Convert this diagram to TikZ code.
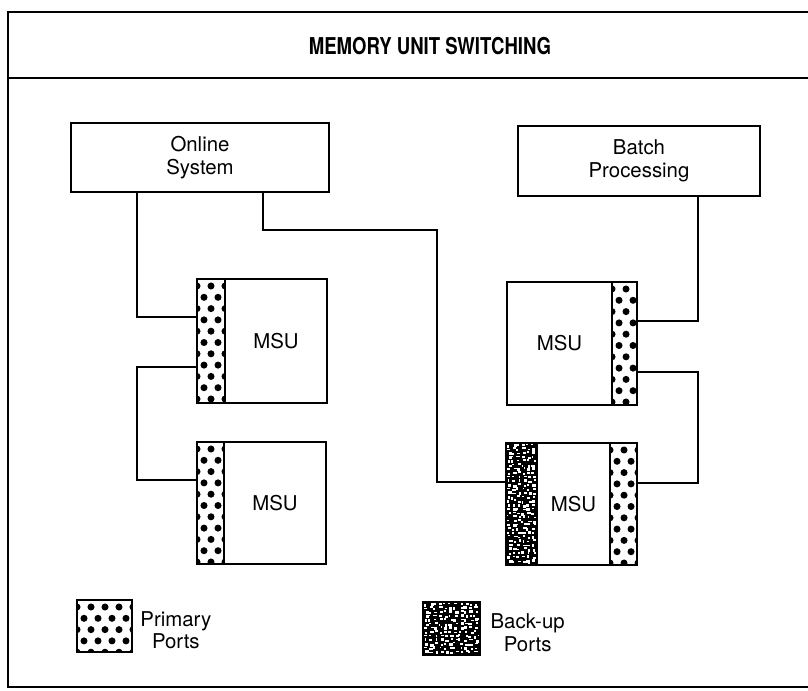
\documentclass[tikz,border=0pt]{standalone}
\usepackage{fontspec}
\setmainfont{TeX Gyre Heros}
\newfontfamily\hepfont[FakeStretch=0.8]{TeX Gyre Heros}
\usetikzlibrary{positioning}

\tikzset{
  khung/.style={draw, line width=1.2pt, outer sep=0pt, inner sep=0pt},
  hop/.style={khung, align=center, font=\fontsize{14.5}{16}\selectfont},
  msu/.style={khung, font=\fontsize{14.5}{16}\selectfont},
  chu/.style={align=center, font=\fontsize{14.5}{16}\selectfont},
  % cổng chính: chấm tròn
  chinh/.style={khung, path picture={
      \foreach \j in {0,...,14}
        \foreach \i in {0,...,4}
          \fill ([shift={({\i*14+mod(\j,2)*7},{7+\j*11.3})}]path picture bounding box.north west) circle (2.5pt);
    }},
  % cổng dự phòng: nền đen lốm đốm
  phu/.style={khung, path picture={
      \fill (path picture bounding box.south west) rectangle (path picture bounding box.north east);
      \pgfmathsetseed{42}
      \foreach \j in {0,...,32}
        \foreach \i in {0,...,12}
          \fill[white] ([shift={({\i*5+3*rnd},{\j*4+2*rnd})}]path picture bounding box.north west)
            rectangle ++({1.5+2.5*rnd},{1.2+1.8*rnd});
    }},
  day/.style={line width=0.8pt},
}

\begin{document}
\begin{tikzpicture}[x=0.025cm, y=-0.025cm]
    \useasboundingbox (0,0) rectangle (808,690);

    % Khung và tiêu đề
    \draw[line width=1.2pt] (808,12) -- (8,12) -- (8,687) -- (808,687);
    \draw[line width=1.2pt] (8,78) -- (808,78);
    \node[font={\hepfont\bfseries\fontsize{16.5}{18}\selectfont}] (tieude) at (430,46) {MEMORY UNIT SWITCHING};

    % Hai hệ thống
    \node[hop, minimum width=6.45cm, minimum height=1.725cm] (online) at (200,157.5) {Online\\System};
    \node[hop, minimum width=6.05cm, minimum height=1.75cm] (batch) at (639,161) {Batch\\Processing};

    % MSU bên trái
    \node[chinh, minimum width=0.7cm, minimum height=3.1cm, anchor=north west] (pA) at (197,279) {};
    \node[msu, minimum width=2.55cm, minimum height=3.1cm, anchor=west] (mA) at (pA.east) {MSU};
    \node[chinh, minimum width=0.675cm, minimum height=3.05cm, anchor=north west] (pB) at (197,442) {};
    \node[msu, minimum width=2.55cm, minimum height=3.05cm, anchor=west] (mB) at (pB.east) {MSU};

    % MSU bên phải
    \node[msu, minimum width=2.625cm, minimum height=3.075cm, anchor=north west] (mC) at (507,282) {MSU};
    \node[chinh, minimum width=0.625cm, minimum height=3.075cm, anchor=west] (pC) at (mC.east) {};
    \node[phu, minimum width=0.775cm, minimum height=3.05cm, anchor=north west] (bD) at (506,443) {};
    \node[msu, minimum width=1.825cm, minimum height=3.05cm, anchor=west] (mD) at (bD.east) {MSU};
    \node[chinh, minimum width=0.675cm, minimum height=3.05cm, anchor=west] (pD) at (mD.east) {};

    % Điểm gấp của đường nối
    \coordinate (g1) at (137,317);
    \coordinate (g2) at (137,367);
    \coordinate (g3) at (137,480);
    \coordinate (g4) at (263,230);
    \coordinate (g5) at (437,482);
    \coordinate (g6) at (698,321);
    \coordinate (g7) at (698,372);
    \coordinate (g8) at (698,483);

    % Đường nối
    \draw[day] (online.south -| g1) |- (pA.west |- g1);
    \draw[day] (pA.west |- g2) -- (g2) -- (g3) -- (pB.west |- g3);
    \draw[day] (online.south -| g4) -- (g4) -- (g5 |- g4) -- (g5) -- (bD.west |- g5);
    \draw[day] (batch.south -| g6) |- (pC.east |- g6);
    \draw[day] (pC.east |- g7) -- (g7) -- (g8) -- (pD.east |- g8);

    % Chú thích
    \node[chinh, minimum width=1.375cm, minimum height=1.3cm, anchor=north west] (lgA) at (77,600) {};
    \node[chu, right=2.5pt of lgA, yshift=-3pt] (lgAt) {Primary\\Ports};
    \node[phu, minimum width=1.425cm, minimum height=1.325cm, anchor=north west] (lgB) at (423,602) {};
    \node[chu, right=4pt of lgB, yshift=-3pt] (lgBt) {Back-up\\Ports};
\end{tikzpicture}
\end{document}
